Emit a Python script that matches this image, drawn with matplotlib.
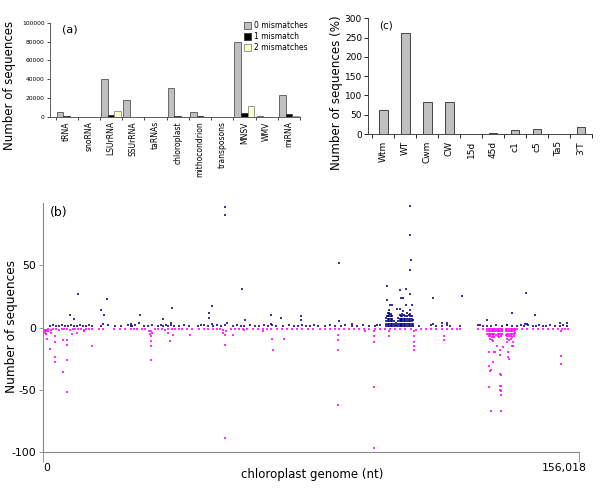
import matplotlib
matplotlib.use("Agg")
import matplotlib.pyplot as plt
from matplotlib.patches import Patch
import numpy as np

plt.rcParams["font.family"] = "DejaVu Sans"
plt.rcParams["axes.unicode_minus"] = False

# ---- panel (a): sequences per class, by mismatches
a_categories = ["tRNA", "snoRNA", "LSUrRNA", "SSUrRNA", "taRNAs", "chloroplast",
                "mithocondrion", "transposons", "MNSV", "WMV", "miRNA"]
a_mm0 = [5500, 0, 40000, 18000, 0, 30500, 5000, 0, 80000, 800, 23000]
a_mm1 = [700, 0, 2200, 300, 0, 600, 600, 0, 4500, 200, 3000]
a_mm2 = [200, 0, 6500, 400, 0, 400, 300, 0, 11500, 100, 700]
a_labels = ["0 mismatches", "1 mismatch", "2 mismatches"]

# ---- panel (c): percentage per library
c_categories = ["Wtm", "WT", "Cwm", "CW", "15d", "45d", "c1", "c5", "Ta5", "3'T"]
c_values = [61, 263, 82, 84, 0.5, 3, 11, 12, 0.5, 17]

# ---- panel (b): reads along the chloroplast genome (position in kb, count)
genome_len = 156018

# sense strand (blue), isolated points
blue_pos = [10.1, 18.5, 16.9, 17.8, 7.8, 9.1, 17.5, 25.5, 37.6, 28.2, 35.0, 28.0,
            49.2, 48.3, 48.3, 49.2, 46.0, 37.3, 53.1, 53.1, 57.8, 66.4, 69.3, 75.1,
            75.1, 58.8, 66.4, 53.5, 86.3, 86.3, 89.9, 97.2, 100.2, 100.2, 101.0, 101.6,
            103.9, 104.1, 103.1, 103.9, 104.9, 100.6, 100.2, 106.8, 106.8, 107.1, 106.8,
            105.7, 106.8, 104.7, 105.7, 107.3, 113.6, 122.0, 129.2, 116.1, 117.5, 113.6,
            127.2, 140.6, 143.2, 136.4, 135.2, 140.3, 140.8, 150.5, 152.6]
blue_cnt = [27, 23, 14, 10, 10, 7, 3, 3, 16, 10, 7, 4,
            17, 12, 8, 3, 2, 4, 97, 90, 31, 10, 8, 9,
            6, 6, 3, 4, 52, 5, 3, 2, 33, 22, 18, 18,
            30, 24, 15, 15, 13, 12, 9, 98, 74, 54, 46,
            31, 27, 24, 18, 18, 24, 25, 6, 4, 4, 3,
            2, 28, 10, 12, 2, 3, 3, 4, 4]

# sense strand, low counts along the genome
blue_base_pos = [2.0, 2.9, 3.8, 4.6, 5.5, 6.4, 7.3, 8.1, 9.0, 9.9, 10.8, 11.6, 12.5,
                 13.4, 14.2, 17.0, 18.8, 20.9, 22.7, 24.8, 25.8,
                 25.5, 26.8, 29.3, 30.5, 31.8, 33.4, 34.2, 35.0, 35.8, 36.5, 37.3,
                 38.0, 39.5, 41.0, 42.5, 45.2, 46.8, 48.0, 49.5, 50.6, 51.8,
                 53.0, 55.3, 56.5, 57.5, 58.5, 60.2, 61.7, 63.0, 64.3, 65.5, 66.6,
                 67.8, 70.0, 71.5, 73.0, 74.2, 75.4, 76.5, 77.6, 78.8,
                 80.0, 82.0, 83.5, 85.0, 86.8, 88.0, 90.0, 91.5, 93.0, 94.8, 96.5, 98.0,
                 109.5, 113.0, 114.5, 116.0, 117.5, 118.5, 121.4, 126.5, 128.0, 129.3,
                 130.5, 132.0, 133.5, 135.0, 136.5, 138.0, 139.0, 140.0, 141.2, 142.5,
                 143.5, 144.5, 145.5, 146.5, 147.5, 149.0, 150.5, 151.5, 152.5]
blue_base_cnt = [1, 2, 1, 1, 2, 1, 1, 2, 1, 1, 2, 1, 1,
                 2, 1, 1, 2, 1, 1, 2, 1,
                 1, 2, 1, 1, 2, 1, 2, 1, 2, 1, 2,
                 1, 1, 2, 1, 1, 2, 1, 1, 2, 1,
                 2, 1, 2, 1, 1, 2, 1, 1, 2, 1, 2,
                 1, 1, 2, 1, 1, 2, 1, 1, 2,
                 1, 1, 2, 1, 1, 2, 1, 1, 2, 1, 1, 2,
                 1, 2, 1, 1, 2, 1, 1, 2, 1, 1,
                 1, 2, 1, 2, 1, 1, 2, 1, 2, 1,
                 1, 2, 1, 1, 2, 1, 1, 2, 1]

# sense strand, dense hotspot (columns of counts)
blue_hot_pos = [99.8, 100.3, 100.7, 101.2, 101.6, 102.2, 102.8, 103.3, 103.8,
                104.2, 104.6, 105.1, 105.5, 106.0, 106.4, 106.8, 107.3, 107.7]
blue_hot_cnt = [[1, 3, 5, 8], [1, 3, 5, 7, 9, 12], [1, 3, 5, 7, 9, 11, 14],
                [1, 3, 5, 7, 9, 11], [1, 3, 5, 7, 9], [1, 3, 5], [1, 2, 4],
                [1, 3, 5, 8], [1, 3, 5, 7, 10], [1, 3, 5, 7, 9], [1, 3, 5, 7, 9, 11],
                [1, 3, 5, 7, 10], [1, 3, 5, 7, 9], [1, 3, 5, 7, 9, 12],
                [1, 3, 5, 7, 10], [1, 3, 5, 7, 9, 11, 14], [1, 3, 5, 7, 9], [1, 3, 6]]

# antisense strand (magenta), isolated points
mag_pos = [0.1, 0.1, 0.1, 1.3, 2.0, 3.6, 3.6, 3.6, 3.6, 5.8, 5.8, 7.1, 7.1, 7.1, 7.1,
           8.3, 10.0, 14.2, 1.0, 0.5, 0.8, 1.5, 2.3, 12.0,
           31.4, 31.4, 31.4, 31.4, 31.4, 36.5, 36.9, 37.9, 42.8, 53.0, 53.0, 53.0,
           52.5, 55.2, 58.5, 64.1, 66.6, 67.0, 70.2,
           86.0, 86.0, 86.0, 86.0, 93.7, 96.4, 96.4, 96.4, 96.4, 96.4, 100.6, 100.6,
           108.1, 108.1, 108.1, 108.1, 108.1, 116.7, 116.7,
           130.6, 132.1, 131.6, 131.1, 130.3, 133.3, 133.3, 133.3, 133.3, 133.3, 130.3,
           133.0, 133.0, 135.4, 135.4, 136.4, 136.9, 135.0, 134.0, 129.9, 130.1, 129.9,
           129.9, 131.1, 131.3, 135.7, 136.7, 133.0, 133.0, 133.0,
           150.8, 150.8, 150.8]
mag_cnt = [-11, -18, -32, -9, -17, -7, -12, -24, -28, -10, -36, -10, -14, -26, -52,
           -5, -4, -15, -3, -4, -5, -3, -4, -3,
           -3, -7, -11, -15, -26, -4, -11, -6, -6, -6, -14, -89,
           -4, -6, -2, -3, -9, -18, -9,
           -6, -10, -18, -62, -3, -3, -7, -12, -48, -97, -3, -7,
           -3, -7, -12, -15, -18, -7, -10,
           -10, -15, -20, -28, -34, -38, -47, -51, -54, -67, -67,
           -18, -22, -24, -20, -15, -12, -12, -16, -20, -35, -48,
           -31, -11, -20, -25, -15, -37, -47, -50,
           -23, -29, -3]

# antisense strand, low counts along the genome
mag_base_pos = [0.2, 0.6, 1.0, 1.5, 2.2, 3.0, 3.8, 4.6, 5.4, 6.2, 7.0, 7.8, 8.6, 9.4,
                10.2, 11.0, 11.8, 12.6, 13.4, 14.2, 16.3, 17.5, 20.8, 22.5, 24.0, 25.6,
                26.5, 27.5, 28.7, 29.8, 30.8, 31.2, 31.6, 32.5, 33.5, 34.5, 35.5, 36.5,
                37.5, 38.5, 39.5, 40.5, 42.0, 43.5, 45.5, 47.0, 48.0, 49.5, 50.5, 51.5,
                52.5, 53.2, 54.8, 56.0, 57.0, 58.3, 59.5, 61.0, 62.5, 64.0, 65.3, 66.5,
                68.0, 69.5, 71.0, 72.5, 74.0, 75.5, 77.0, 78.5,
                80.5, 82.0, 83.5, 85.0, 86.2, 87.5, 89.0, 90.5, 92.0, 93.5, 95.0, 96.5,
                98.0, 99.5, 101.0, 102.5, 104.0, 105.5, 107.0, 108.5, 110.0, 111.5,
                113.0, 114.5, 116.0, 117.5, 119.0, 120.5, 121.4, 126.5, 128.0,
                138.0, 139.5, 141.0, 142.5, 144.0, 145.5, 147.0, 148.5, 150.0, 151.0,
                152.0, 152.8]
mag_base_cnt = [-2, -3, -2, -1, -2, -1, -1, -2, -1, -1, -1, -2, -1, -1,
                -1, -1, -2, -1, -1, -1, -1, -1, -1, -1, -1, -1,
                -1, -1, -1, -1, -3, -5, -4, -1, -1, -1, -2, -1,
                -1, -1, -1, -1, -1, -1, -1, -1, -1, -1, -1, -1,
                -2, -3, -1, -1, -1, -1, -1, -1, -1, -1, -1, -1,
                -1, -1, -1, -1, -1, -1, -1, -1,
                -1, -1, -1, -1, -1, -1, -1, -1, -1, -1, -1, -1,
                -1, -1, -1, -1, -1, -1, -1, -2, -1, -1,
                -1, -1, -1, -1, -1, -1, -1, -1, -1,
                -1, -1, -1, -1, -1, -1, -1, -1, -1, -1,
                -1, -1]

# antisense strand, dense hotspot (columns of counts)
mag_hot_pos = [129.2, 129.7, 130.1, 130.6, 131.0, 131.4, 131.9, 132.3, 132.7,
               133.2, 133.6, 134.8, 135.2, 135.7, 136.1, 136.5, 137.0, 137.4]
mag_hot_cnt = [[-1, -3, -5], [-1, -3, -5, -7], [-1, -3, -5, -7, -9], [-1, -3, -5, -8],
               [-1, -3, -5, -7], [-1, -3, -5, -8], [-1, -3, -6], [-1, -3, -5, -7],
               [-1, -3, -5, -8], [-1, -3, -5, -7], [-1, -3, -5], [-1, -3, -6],
               [-1, -3, -5, -7, -9], [-1, -3, -5, -7, -10], [-1, -3, -5, -7, -9],
               [-1, -3, -5, -8], [-1, -3, -5, -7], [-1, -2, -4]]

fig = plt.figure(figsize=(6, 4.94), dpi=100)

# ================= (a)
ax_a = fig.add_axes([0.0833, 0.7632, 0.4167, 0.1909])
xa = np.arange(len(a_categories))
w = 0.3
ax_a.bar(xa - w, a_mm0, w, color="#c0c0c0", edgecolor="#555555", linewidth=0.6)
ax_a.bar(xa, a_mm1, w, color="black", edgecolor="#333333", linewidth=0.6)
ax_a.bar(xa + w, a_mm2, w, color="#ffffcc", edgecolor="#888888", linewidth=0.6)
ax_a.set_xlim(-0.75, 10.5)
ax_a.set_ylim(0, 100000)
ax_a.set_yticks(np.arange(0, 100001, 20000))
ax_a.tick_params(axis="y", labelsize=4.3, length=2.5, width=0.5, pad=1.5)
ax_a.set_xticks(xa)
ax_a.set_xticklabels(a_categories, rotation=90, fontsize=5.5)
ax_a.tick_params(axis="x", length=0, pad=3)
ax_a.set_xticks(np.arange(-0.5, 10.6, 1), minor=True)
ax_a.tick_params(axis="x", which="minor", length=2, width=0.5)
for s in ["top", "right"]:
    ax_a.spines[s].set_visible(False)
for s in ["left", "bottom"]:
    ax_a.spines[s].set_linewidth(0.6)
    ax_a.spines[s].set_color("#444444")
ax_a.set_ylabel("Number of sequences", fontsize=8.5)
ax_a.yaxis.set_label_coords(-0.135, 0.33)
ax_a.text(0.047, 0.985, "(a)", transform=ax_a.transAxes, fontsize=8, va="top")
handles = [Patch(facecolor="#c0c0c0", edgecolor="#555555", linewidth=0.6),
           Patch(facecolor="black", edgecolor="#333333", linewidth=0.6),
           Patch(facecolor="#ffffcc", edgecolor="#888888", linewidth=0.6)]
ax_a.legend(handles, a_labels, loc="upper left", bbox_to_anchor=(0.775, 1.02),
            frameon=False, fontsize=5.5, handlelength=0.9, handleheight=1.0,
            handletextpad=0.4, labelspacing=0.3, borderpad=0, borderaxespad=0)

# ================= (c)
ax_c = fig.add_axes([0.6138, 0.7287, 0.3728, 0.2342])
xc = np.arange(len(c_categories))
ax_c.bar(xc, c_values, 0.4, color="#c0c0c0", edgecolor="#444444", linewidth=0.7)
ax_c.set_xlim(-0.68, 9.5)
ax_c.set_ylim(0, 300)
ax_c.set_yticks(np.arange(0, 301, 50))
ax_c.tick_params(axis="y", labelsize=6.5, length=3, width=0.6, pad=1.5)
ax_c.set_xticks(xc)
ax_c.set_xticklabels(c_categories, rotation=90, fontsize=6.5)
ax_c.tick_params(axis="x", length=0, pad=5)
ax_c.set_xticks(np.arange(-0.5, 9.6, 1), minor=True)
ax_c.tick_params(axis="x", which="minor", length=3, width=0.6)
for s in ["top", "right"]:
    ax_c.spines[s].set_visible(False)
for s in ["left", "bottom"]:
    ax_c.spines[s].set_linewidth(0.7)
    ax_c.spines[s].set_color("#444444")
ax_c.set_ylabel("Number of sequences (%)", fontsize=8.6)
ax_c.yaxis.set_label_coords(-0.113, 0.36)
ax_c.text(0.05, 0.985, "(c)", transform=ax_c.transAxes, fontsize=7.5, va="top")

# ================= (b)
ax_b = fig.add_axes([0.0717, 0.085, 0.8933, 0.504])
mp = [p * 1000 for p in mag_pos + mag_base_pos]
mc = mag_cnt + mag_base_cnt
for p, cs in zip(mag_hot_pos, mag_hot_cnt):
    mp += [p * 1000] * len(cs)
    mc += cs
bp = [p * 1000 for p in blue_pos + blue_base_pos]
bc = blue_cnt + blue_base_cnt
for p, cs in zip(blue_hot_pos, blue_hot_cnt):
    bp += [p * 1000] * len(cs)
    bc += cs
ax_b.plot(mp, mc, "s", color="#ff00ff", ms=1.6, mew=0, alpha=0.8)
ax_b.plot(bp, bc, "s", color="#000080", ms=1.6, mew=0, alpha=0.8)
ax_b.set_xlim(0, genome_len)
ax_b.set_ylim(-100, 100)
ax_b.set_yticks([-100, -50, 0, 50])
ax_b.tick_params(axis="y", labelsize=7.8, length=3, width=0.6, color="#888888", pad=2)
ax_b.set_xticks([0, genome_len])
ax_b.set_xticklabels(["", ""])
ax_b.tick_params(axis="x", length=7, width=0.6, color="#888888")
for s in ["top", "right"]:
    ax_b.spines[s].set_visible(False)
for s in ["left", "bottom"]:
    ax_b.spines[s].set_linewidth(0.8)
    ax_b.spines[s].set_color("#888888")
ax_b.text(0.0075, -0.045, "0", transform=ax_b.transAxes, fontsize=7.8,
          ha="center", va="top")
ax_b.text(0.972, -0.045, "156,018", transform=ax_b.transAxes, fontsize=7.8,
          ha="center", va="top")
ax_b.set_ylabel("Number of sequences", fontsize=8.7)
ax_b.yaxis.set_label_coords(-0.047, 0.506)
ax_b.set_xlabel("chloroplast genome (nt)", fontsize=8.5)
ax_b.xaxis.set_label_coords(0.502, -0.065)
ax_b.text(0.012, 0.99, "(b)", transform=ax_b.transAxes, fontsize=9, va="top")

fig.savefig("out.png", dpi=100)
